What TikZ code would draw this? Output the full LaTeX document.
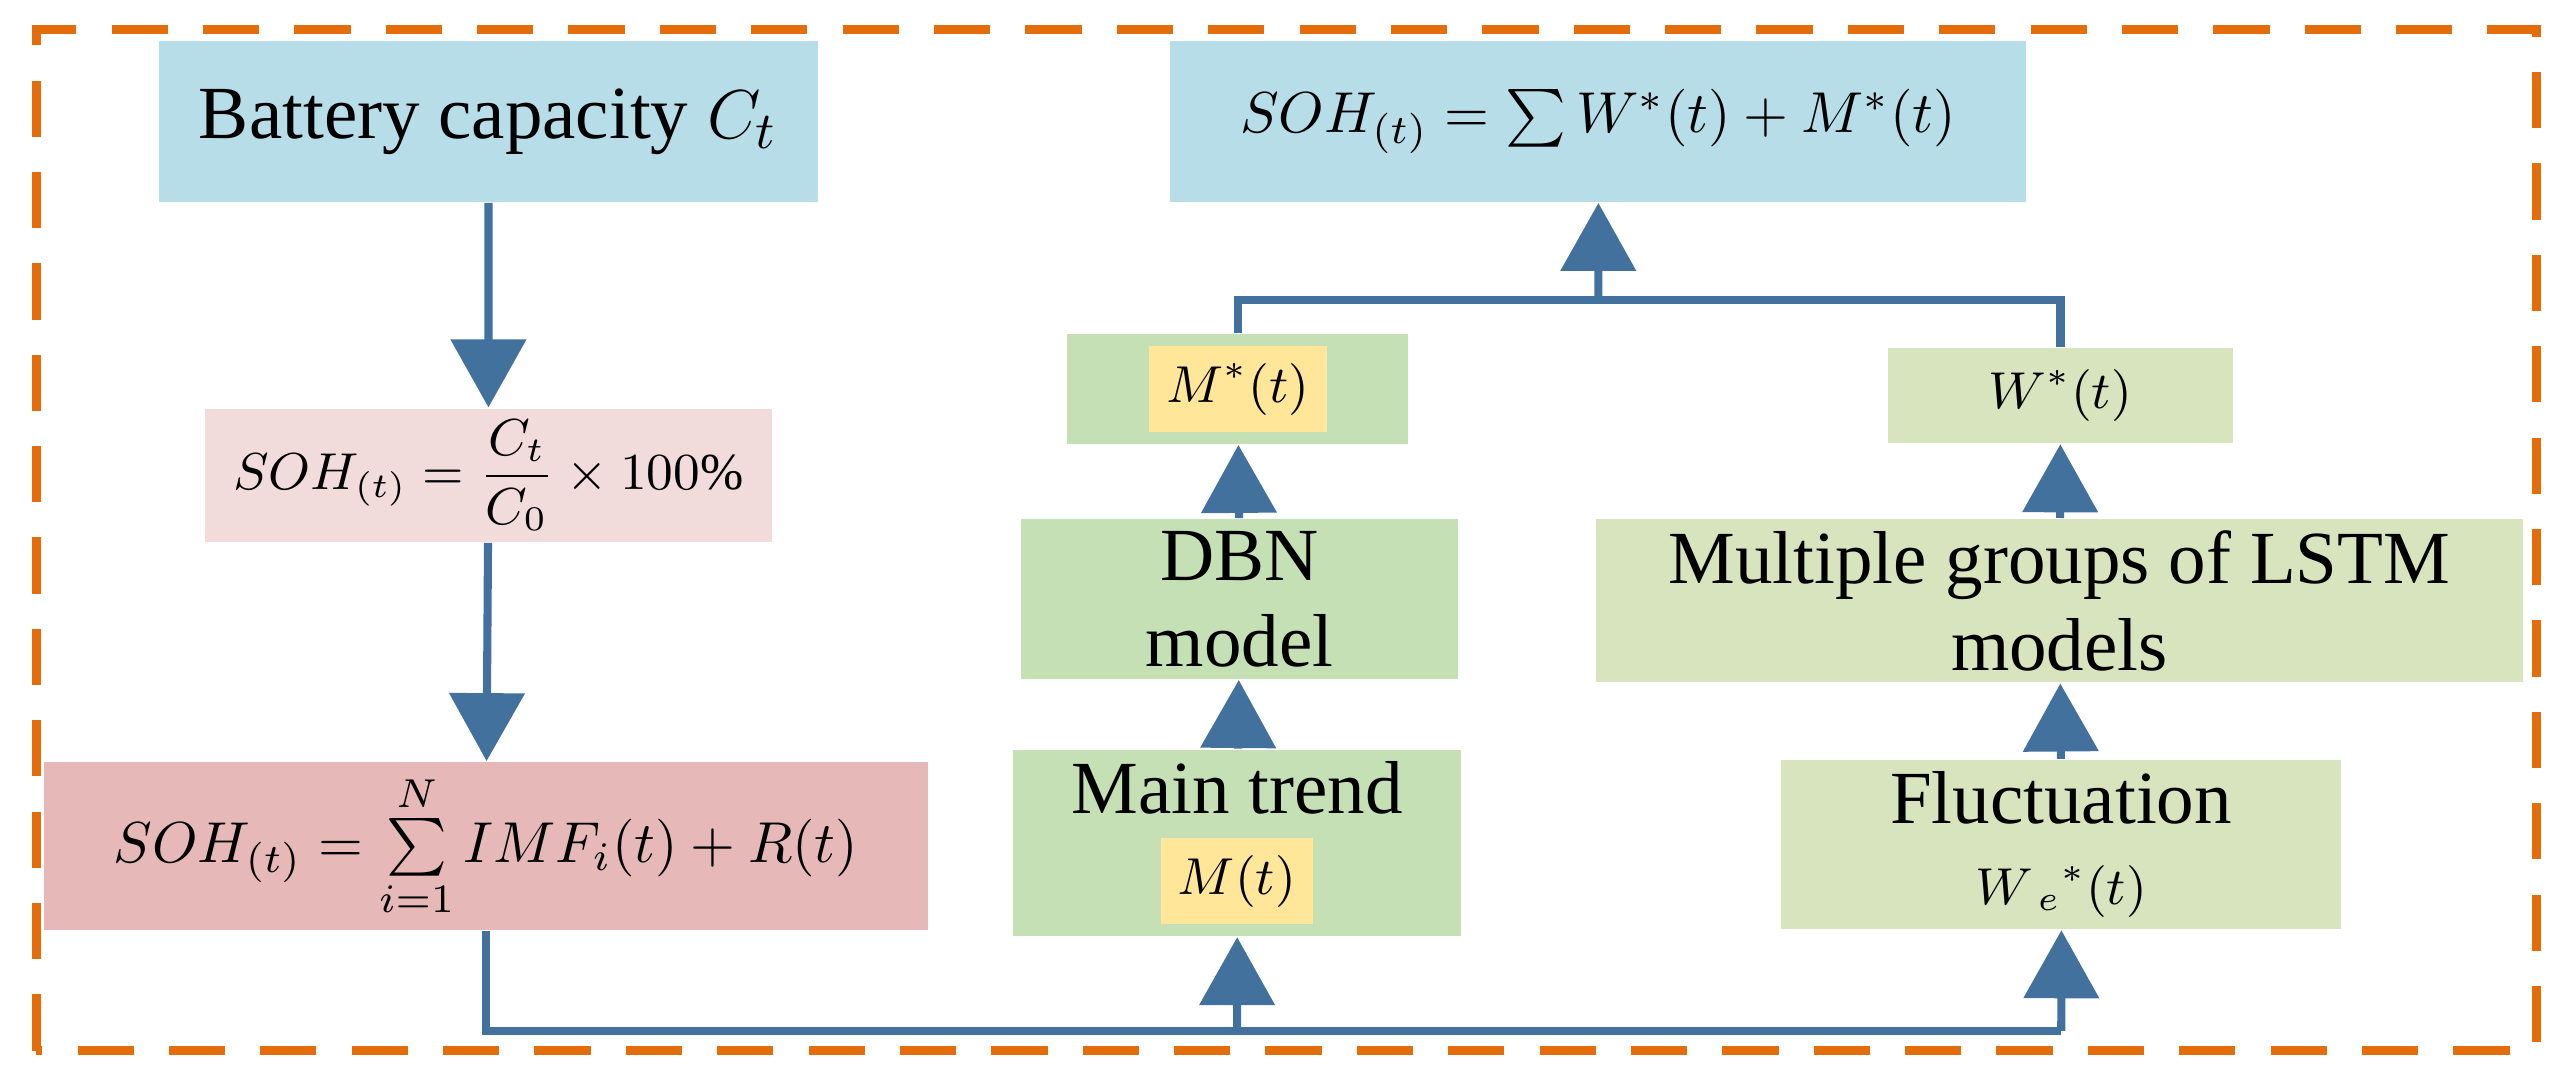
\documentclass[tikz,border=0pt]{standalone}
\usepackage{amsmath}
\usepackage{fontspec}
\setmainfont{Liberation Serif}
\usetikzlibrary{arrows.meta,positioning}
\definecolor{boxblue}{HTML}{B7DDE8}
\definecolor{boxpink}{HTML}{F2DCDB}
\definecolor{boxred}{HTML}{E6B9B8}
\definecolor{boxgreen}{HTML}{C4E0B4}
\definecolor{boxlight}{HTML}{D7E4BD}
\definecolor{hl}{HTML}{FFE699}
\definecolor{linkblue}{HTML}{41719C}
\definecolor{frameorange}{HTML}{E46C0A}
\tikzset{
  box/.style={inner sep=2pt, align=center, font=\fontsize{13}{15}\selectfont},
  link/.style={line width=2.3pt, draw=linkblue, -{Triangle[width=0.74cm,length=0.68cm]}},
  plain/.style={line width=2.3pt, draw=linkblue}
}
\begin{document}
\begin{tikzpicture}[scale=1.6416, every node/.style={transform shape}]
    \useasboundingbox (0,0) rectangle (15.68,6.58);
    \draw[frameorange, line width=2.5pt, dash pattern=on 16pt off 10pt] (0.22,0.18) rectangle (15.45,6.40);
    \node[box, fill=boxblue, minimum width=4.01cm, minimum height=0.98cm] (cap) at (2.975,5.84) {Battery capacity $C_t$};
    \node[box, fill=boxblue, minimum width=5.21cm, minimum height=0.98cm, font=\fontsize{10}{12}\selectfont] (soh) at (9.735,5.84) {$SOH_{(t)}=\sum W^*(t)+M^*(t)$};
    \node[box, fill=boxpink, minimum width=3.45cm, minimum height=0.75cm, font=\fontsize{9}{11}\selectfont] (ratio) at (2.975,3.685) {$SOH_{(t)}=\dfrac{C_t}{C_0}\times 100\%$};
    \node[box, fill=boxred, minimum width=5.38cm, minimum height=0.95cm, font=\fontsize{10}{12}\selectfont] (imf) at (2.96,1.425) {$SOH_{(t)}=\sum\limits_{i=1}^{N} IMF_i(t)+R(t)$};
    \node[box, fill=boxgreen, minimum width=2.08cm, minimum height=0.5cm, font=\fontsize{9}{11}\selectfont] (mstar) at (7.54,4.21) {\colorbox{hl}{$M^*(t)$}};
    \node[box, fill=boxlight, minimum width=2.1cm, minimum height=0.58cm, font=\fontsize{9}{11}\selectfont] (wstar) at (12.55,4.17) {$W^*(t)$};
    \node[box, fill=boxgreen, minimum width=2.66cm, minimum height=0.94cm] (dbn) at (7.55,2.93) {DBN\\model};
    \node[box, fill=boxlight, minimum width=5.65cm, minimum height=0.92cm] (lstm) at (12.545,2.92) {Multiple groups of LSTM\\models};
    \node[box, fill=boxgreen, minimum width=2.73cm, minimum height=1.03cm] (trend) at (7.535,1.445) {Main trend\\[-1pt]{\fontsize{9}{11}\selectfont\colorbox{hl}{$M(t)$}}};
    \node[box, fill=boxlight, minimum width=3.41cm, minimum height=1.03cm] (fluct) at (12.555,1.435) {Fluctuation\\[-1pt]{\fontsize{9}{11}\selectfont$W_{\;e}{}^*(t)$}};
    \coordinate (bl) at (2.96,0.30);
    \coordinate (br) at (12.555,0.30);
    \coordinate (tl) at (7.54,4.75);
    \coordinate (tr) at (12.55,4.75);
    \draw[link] (cap) -- (ratio);
    \draw[link] (ratio) -- (imf);
    \draw[plain] (imf.south) -- (bl) -- (br);
    \draw[link] (bl -| trend) -- (trend);
    \draw[link] (br) -- (fluct);
    \draw[link] (trend) -- (dbn);
    \draw[link] (dbn) -- (mstar);
    \draw[link] (fluct) -- (lstm);
    \draw[link] (lstm) -- (wstar);
    \draw[plain] (mstar.north) -- (tl) -- (tr) -- (wstar.north);
    \draw[link] (tl -| soh) -- (soh);
\end{tikzpicture}
\end{document}
